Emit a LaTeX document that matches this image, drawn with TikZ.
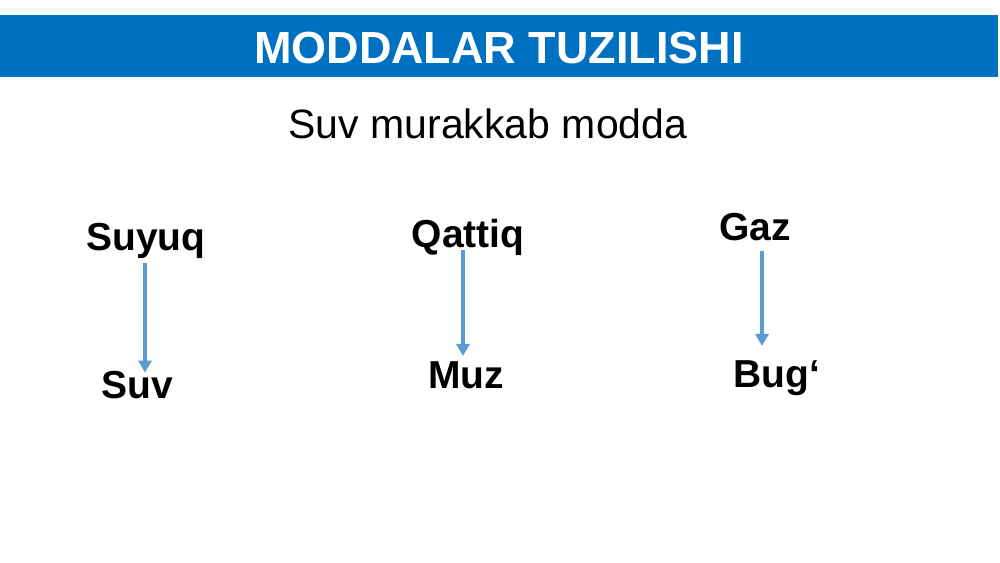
\documentclass[tikz,border=0pt]{standalone}
\usepackage{fontspec}
\setmainfont{Liberation Sans}
\usetikzlibrary{arrows.meta}
\definecolor{banner}{HTML}{0070C0}
\definecolor{arrowblue}{HTML}{5B9BD5}
\tikzset{
  lbl/.style={font=\fontsize{39}{39}\selectfont\bfseries, inner sep=0pt, anchor=base},
  arr/.style={draw=arrowblue, line width=3.5pt, -{Triangle[width=13pt,length=12pt]}}
}
\begin{document}
\begin{tikzpicture}[x=1pt,y=-1pt]
\useasboundingbox (0,0) rectangle (1000,562);
\fill[white] (0,0) rectangle (1000,562);
\fill[banner] (0,15) rectangle (998,77);
\node[font=\fontsize{45}{45}\selectfont\bfseries, text=white, inner sep=0pt, anchor=base] (title) at (499,63) {MODDALAR TUZILISHI};
\node[font=\fontsize{41}{41}\selectfont, inner sep=0pt, anchor=base] (sub) at (488,138) {Suv murakkab modda};

\node[lbl] (suyuq) at (146,250) {Suyuq};
\node[lbl] (suv) at (137,398) {Suv};
\node[lbl] (qattiq) at (468,247) {Qattiq};
\node[lbl] (muz) at (466,388) {Muz};
\node[lbl] (gaz) at (755,240) {Gaz};
\node[lbl] (bug) at (777,387) {Bug‘};

\draw[arr] ([xshift=-1pt,yshift=-5pt]suyuq.south) -- ([xshift=-1pt,yshift=-2pt]suyuq.south |- suv.north);
\draw[arr] ([xshift=-5pt,yshift=5pt]qattiq.south) -- ([xshift=-5pt,yshift=5pt]qattiq.south |- muz.north);
\draw[arr] ([xshift=7pt,yshift=-10pt]gaz.south) -- ([xshift=7pt,yshift=14pt]gaz.south |- bug.north);
\end{tikzpicture}
\end{document}
